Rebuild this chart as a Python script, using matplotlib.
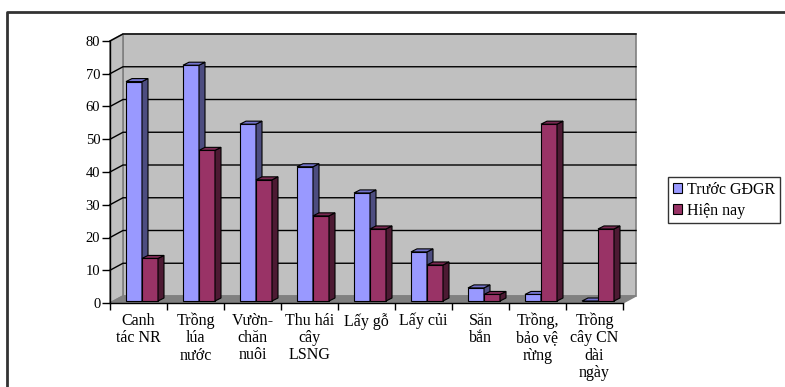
import matplotlib.pyplot as plt
from matplotlib.patches import Polygon, Patch
from matplotlib.lines import Line2D

categories = ["Canh\ntác NR", "Trồng\nlúa\nnước", "Vườn-\nchăn\nnuôi", "Thu hái\ncây\nLSNG",
              "Lấy gỗ", "Lấy củi", "Săn\nbắn", "Trồng,\nbảo vệ\nrừng", "Trồng\ncây CN\ndài\nngày"]
truoc = [67, 72, 54, 41, 33, 15, 4, 2, 0]
hien_nay = [13, 46, 37, 26, 22, 11, 2, 54, 22]
series_names = ["Trước GĐGR", "Hiện nay"]
yticks = [0, 10, 20, 30, 40, 50, 60, 70, 80]

plt.rcParams['font.family'] = ['Liberation Serif', 'DejaVu Serif']

W, H = 785, 387
fig = plt.figure(figsize=(W / 100, H / 100), dpi=100)

# axes = front plane of the 3d box
x0, y0, x1, y1 = 110, 303, 623, 41
ax = fig.add_axes([x0 / W, 1 - y0 / H, (x1 - x0) / W, (y0 - y1) / H])
n = len(categories)
ymax = 80
ax.set_xlim(0, n)
ax.set_ylim(0, ymax)
sx = (x1 - x0) / n          # px per category
sy = (y0 - y1) / ymax       # px per unit


def px(dx, dy):
    return dx / sx, dy / sy


DX, DY = px(13, 7)        # depth of the box
BX, BY = px(3.5, 2)       # bars sit slightly behind the front
BDX, BDY = px(6, 3)       # bar depth
bw = 16 / sx


def poly(pts, fc, ec='black', lw=0.8, z=1):
    ax.add_patch(Polygon(pts, closed=True, facecolor=fc, edgecolor=ec, linewidth=lw,
                         zorder=z, clip_on=False))


# walls and floor
poly([(DX, DY), (n + DX, DY), (n + DX, ymax + DY), (DX, ymax + DY)], '#c0c0c0', '#808080', 1.2, 0)
poly([(0, 0), (DX, DY), (DX, ymax + DY), (0, ymax)], '#c0c0c0', '#808080', 1.2, 0)
poly([(0, 0), (n, 0), (n + DX, DY), (DX, DY)], '#808080', '#808080', 1.0, 0.5)

# gridlines on back and side wall
for v in yticks[1:]:
    ax.add_line(Line2D([0, DX, n + DX], [v, v + DY, v + DY], color='black', lw=1.0,
                       zorder=0.6, clip_on=False))

colors = [('#9999ff', '#4d4d80', '#7373cc'), ('#993366', '#4d1a33', '#7a2952')]


def bar3d(xl, h, cols):
    front, side, top = cols
    xb, yb = xl + BX, BY
    xr, yt = xb + bw, yb + h
    poly([(xb, yb), (xr, yb), (xr, yt), (xb, yt)], front, z=2)
    poly([(xr, yb), (xr + BDX, yb + BDY), (xr + BDX, yt + BDY), (xr, yt)], side, z=2)
    poly([(xb, yt), (xr, yt), (xr + BDX, yt + BDY), (xb + BDX, yt + BDY)], top, z=2)


for i in range(n):
    c = i + 0.5
    bar3d(c - bw, truoc[i], colors[0])
    bar3d(c, hien_nay[i], colors[1])

# axes lines and ticks
for s in ax.spines.values():
    s.set_visible(False)
ax.add_line(Line2D([0, 0], [0, ymax], color='black', lw=1.0, zorder=3, clip_on=False))
ax.add_line(Line2D([0, n], [0, 0], color='black', lw=1.0, zorder=3, clip_on=False))
ax.set_yticks(yticks)
ax.tick_params(axis='y', length=6, width=1, direction='out', labelsize=10.5, pad=1)
ax.set_xticks([i + 0.5 for i in range(n)])
ax.set_xticklabels(categories, fontsize=11.5, linespacing=1.1, va='top')
ax.set_xticks(range(n + 1), minor=True)
ax.tick_params(axis='x', which='major', length=0, pad=7)
ax.tick_params(axis='x', which='minor', length=5, width=1, direction='out')

handles = [Patch(facecolor=colors[0][0], edgecolor='black', lw=0.8),
           Patch(facecolor=colors[1][0], edgecolor='black', lw=0.8)]
leg = fig.legend(handles, series_names, loc='upper left', bbox_to_anchor=(668 / W, 1 - 177 / H),
                 frameon=True, fancybox=False, edgecolor='black', fontsize=11.5,
                 handlelength=0.6, handleheight=0.6, handletextpad=0.3,
                 borderpad=0.3, labelspacing=0.3, borderaxespad=0)
leg.get_frame().set_linewidth(1.0)

# chart border (top and left)
fig.add_artist(Line2D([7 / W, 7 / W, 1], [0, 1 - 11.5 / H, 1 - 11.5 / H],
                      transform=fig.transFigure, color='#333333', lw=2))

fig.savefig('out.png', dpi=100)
